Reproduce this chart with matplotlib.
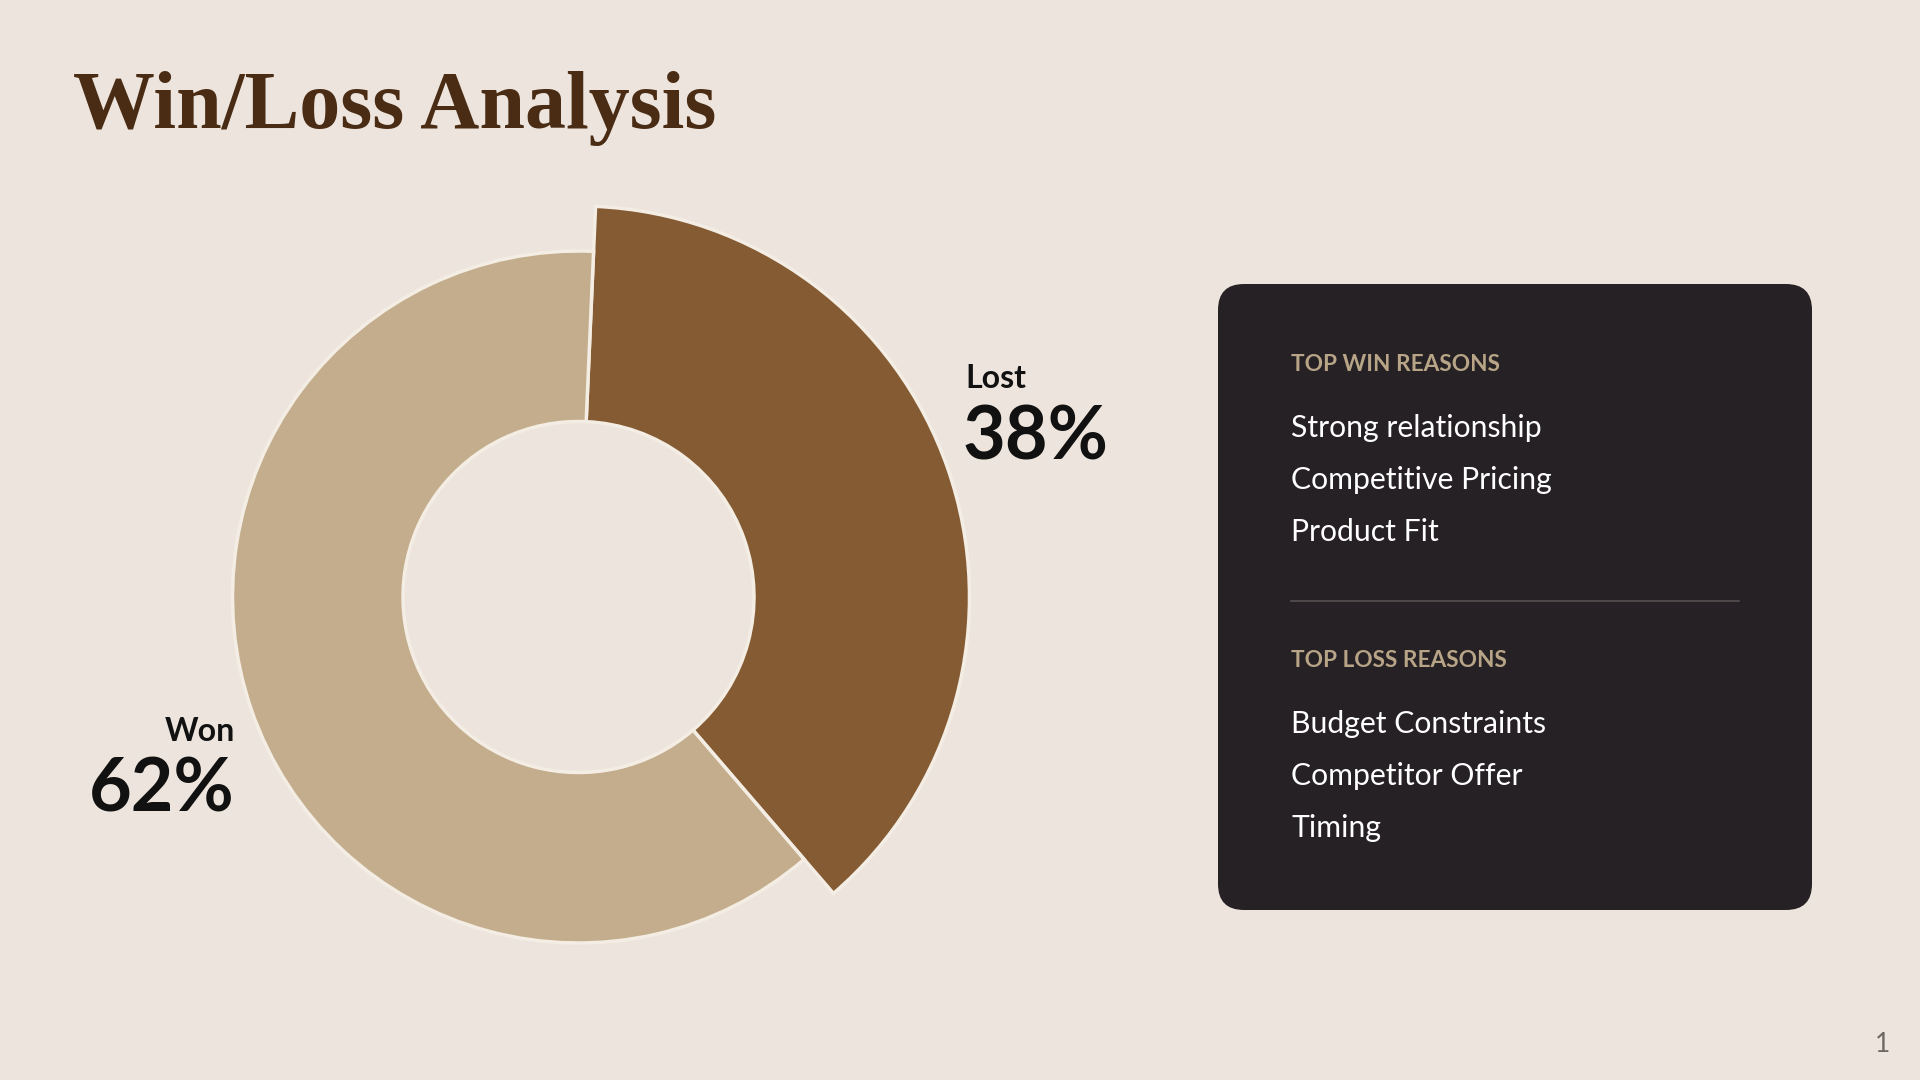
import matplotlib
matplotlib.use("Agg")
import matplotlib.pyplot as plt
from matplotlib.patches import FancyBboxPatch

# Data
slice_labels = ["Lost", "Won"]
slice_values = [38, 62]
slice_colors = ["#855B33", "#C4AD8D"]

win_reasons = ["Strong relationship", "Competitive Pricing", "Product Fit"]
loss_reasons = ["Budget Constraints", "Competitor Offer", "Timing"]

BG = "#EDE5DD"
TITLE_COL = "#4A2C14"
PANEL = "#262124"
HEAD_COL = "#B8A587"

fig = plt.figure(figsize=(19.2, 10.8), dpi=100, facecolor=BG)
ax = fig.add_axes([0, 0, 1, 1])
ax.set_facecolor(BG)

def Y(y):
    # image pixel row -> data y
    return 1080 - y

# Donut, pixel units
cx, cy = 578.5, Y(597)
r_in = 175.5
r_won = 346
r_lost = 391

wedges, _ = ax.pie(slice_values, colors=slice_colors, startangle=87.5,
                   counterclock=False, center=(cx, cy), radius=r_won,
                   wedgeprops=dict(width=r_won - r_in, edgecolor="#F4EDE4", linewidth=2.5))
# Lost slice sticks out further
wedges[0].set_radius(r_lost)
wedges[0].set_width(r_lost - r_in)

ax.set_xlim(0, 1920)
ax.set_ylim(0, 1080)
ax.set_aspect("equal")
ax.axis("off")

# Title
ax.text(73, Y(128), "Win/Loss Analysis", fontsize=59, fontweight="bold",
        family="Liberation Serif", color=TITLE_COL, va="baseline", ha="left")

# Slice labels
ax.text(965, Y(388), slice_labels[0], fontsize=23, fontweight="bold", family="Lato",
        color="#111111", va="baseline", ha="left")
ax.text(963, Y(460), f"{slice_values[0]}%", fontsize=53, fontweight="bold", family="Lato",
        color="#111111", va="baseline", ha="left")
ax.text(235, Y(741), slice_labels[1], fontsize=23, fontweight="bold", family="Lato",
        color="#111111", va="baseline", ha="right")
ax.text(235, Y(812), f"{slice_values[1]}%", fontsize=53, fontweight="bold", family="Lato",
        color="#111111", va="baseline", ha="right")

# Reasons panel
px0, py0, px1, py1 = 1218, 284, 1812, 910
rad = 26
panel = FancyBboxPatch((px0 + rad, Y(py1) + rad), (px1 - px0) - 2 * rad, (py1 - py0) - 2 * rad,
                       boxstyle=f"round,pad={rad}", facecolor=PANEL, edgecolor="none")
ax.add_patch(panel)

tx = 1291
ax.text(tx, Y(371), "TOP WIN REASONS", fontsize=16.3, fontweight="bold", family="Lato",
        color=HEAD_COL, va="baseline")
for i, s in enumerate(win_reasons):
    ax.text(tx, Y(437 + i * 52), s, fontsize=21.7, family="Lato", color="white", va="baseline")

ax.plot([tx, 1739], [Y(601), Y(601)], color="#55504F", lw=1.2)

ax.text(tx, Y(667), "TOP LOSS REASONS", fontsize=16.3, fontweight="bold", family="Lato",
        color=HEAD_COL, va="baseline")
for i, s in enumerate(loss_reasons):
    ax.text(tx, Y(733 + i * 52), s, fontsize=21.7, family="Lato", color="white", va="baseline")

# Page number
ax.text(1883, Y(1052), "1", fontsize=19, family="Lato", color="#6E6864", va="baseline", ha="center")

fig.savefig("out.png", dpi=100, facecolor=BG)
